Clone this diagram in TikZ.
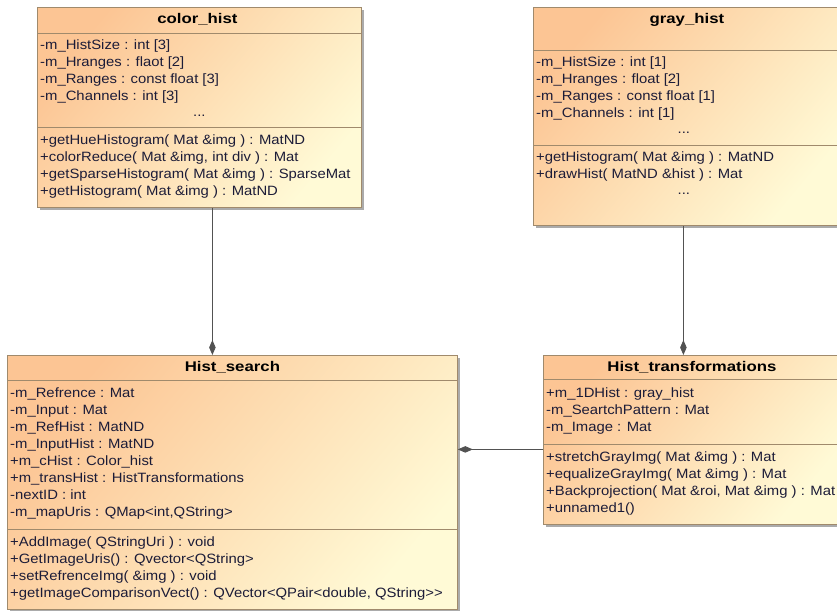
\documentclass[tikz,border=0pt]{standalone}
\usepackage{fontspec}
\setmainfont{Liberation Sans}[FakeStretch=1.1]
\newfontfamily\titlefont{Liberation Sans}[FakeStretch=1.2]
\usepackage{xcolor}
\usepackage{tikz}
\usetikzlibrary{arrows.meta,shadows}

\definecolor{peach}{HTML}{FCC594}
\definecolor{cream}{HTML}{FFFAD6}
\definecolor{umlline}{HTML}{A08A6C}
\definecolor{umltext}{HTML}{1C1C38}

\begin{document}
\begin{tikzpicture}[
  x=1pt, y=-1pt,
  cls/.style={draw=umlline, line width=0.8pt, anchor=north west, inner sep=0pt,
    top color=peach, bottom color=cream, shading angle=50,
    drop shadow={shadow xshift=3pt, shadow yshift=-3pt, fill=black!33, opacity=1}},
  sep/.style={draw=umlline, line width=0.8pt},
  title/.style={font=\titlefont\fontsize{14}{16}\selectfont\bfseries, inner sep=0pt},
  members/.style={anchor=north west, align=left, inner sep=0pt, text=umltext,
    font=\fontsize{13.5}{17}\selectfont},
  more/.style={anchor=base, inner sep=0pt, text=umltext, font=\fontsize{13.5}{17}\selectfont},
  comp/.style={draw=black!68, line width=0.9pt, -{Diamond[length=15pt,width=6.5pt]}}
]
  \clip (0,0) rectangle (837,610);

  % color_hist
  \node[cls, minimum width=324pt, minimum height=200pt] (colorhist) at (37,7) {};
  \node[title] (colorhistT) at ([yshift=-12.5pt,xshift=-2pt]colorhist.north) {color\_hist};
  \draw[sep] ([yshift=-26pt]colorhist.north west) -- ([yshift=-26pt]colorhist.north east);
  \node[members] (colorhistA) at ([xshift=3pt,yshift=-32.5pt]colorhist.north west)
    {-m\_HistSize : int [3]\\-m\_Hranges : flaot [2]\\-m\_Ranges : const float [3]\\-m\_Channels : int [3]};
  \node[more] (colorhistD) at ([yshift=-109pt]colorhist.north) {...};
  \draw[sep] ([yshift=-120pt]colorhist.north west) -- ([yshift=-120pt]colorhist.north east);
  \node[members] (colorhistM) at ([xshift=3pt,yshift=-127.5pt]colorhist.north west)
    {+getHueHistogram( Mat \&img ) : MatND\\+colorReduce( Mat \&img, int div ) : Mat\\
     +getSparseHistogram( Mat \&img ) : SparseMat\\+getHistogram( Mat \&img ) : MatND};

  % gray_hist
  \node[cls, minimum width=307pt, minimum height=218pt] (grayhist) at (533,7) {};
  \node[title] (grayhistT) at ([yshift=-13pt]grayhist.north) {gray\_hist};
  \draw[sep] ([yshift=-43pt]grayhist.north west) -- ([yshift=-43pt]grayhist.north east);
  \node[members] (grayhistA) at ([xshift=3pt,yshift=-49.5pt]grayhist.north west)
    {-m\_HistSize : int [1]\\-m\_Hranges : float [2]\\-m\_Ranges : const float [1]\\-m\_Channels : int [1]};
  \node[more] (grayhistD) at ([yshift=-126pt,xshift=-3pt]grayhist.north) {...};
  \draw[sep] ([yshift=-138pt]grayhist.north west) -- ([yshift=-138pt]grayhist.north east);
  \node[members] (grayhistM) at ([xshift=3pt,yshift=-144.5pt]grayhist.north west)
    {+getHistogram( Mat \&img ) : MatND\\+drawHist( MatND \&hist ) : Mat};
  \node[more] (grayhistE) at ([yshift=-187pt,xshift=-3pt]grayhist.north) {...};

  % Hist_search
  \node[cls, minimum width=450pt, minimum height=254pt] (histsearch) at (7,355) {};
  \node[title] (histsearchT) at ([yshift=-12pt]histsearch.north) {Hist\_search};
  \draw[sep] ([yshift=-25pt]histsearch.north west) -- ([yshift=-25pt]histsearch.north east);
  \node[members] (histsearchA) at ([xshift=3pt,yshift=-32.5pt]histsearch.north west)
    {-m\_Refrence : Mat\\-m\_Input : Mat\\-m\_RefHist : MatND\\-m\_InputHist : MatND\\
     +m\_cHist : Color\_hist\\+m\_transHist : HistTransformations\\-nextID : int\\
     -m\_mapUris : QMap<int,QString>};
  \draw[sep] ([yshift=-174pt]histsearch.north west) -- ([yshift=-174pt]histsearch.north east);
  \node[members] (histsearchM) at ([xshift=3pt,yshift=-181.5pt]histsearch.north west)
    {+AddImage( QStringUri ) : void\\+GetImageUris() : Qvector<QString>\\
     +setRefrenceImg( \&img ) : void\\+getImageComparisonVect() : QVector<QPair<double, QString>{}>};

  % Hist_transformations
  \node[cls, minimum width=297pt, minimum height=169pt] (histtrans) at (543,355) {};
  \node[title] (histtransT) at ([yshift=-12pt]histtrans.north) {Hist\_transformations};
  \draw[sep] ([yshift=-24pt]histtrans.north west) -- ([yshift=-24pt]histtrans.north east);
  \node[members] (histtransA) at ([xshift=3pt,yshift=-32.5pt]histtrans.north west)
    {+m\_1DHist : gray\_hist\\-m\_SeartchPattern : Mat\\-m\_Image : Mat};
  \draw[sep] ([yshift=-89pt]histtrans.north west) -- ([yshift=-89pt]histtrans.north east);
  \node[members] (histtransM) at ([xshift=3pt,yshift=-96.5pt]histtrans.north west)
    {+stretchGrayImg( Mat \&img ) : Mat\\+equalizeGrayImg( Mat \&img ) : Mat\\
     +Backprojection( Mat \&roi, Mat \&img ) : Mat\\+unnamed1()};

  % composition links
  \draw[comp] ([xshift=13pt]colorhist.south) -- ([xshift=13pt]colorhist.south |- histsearch.north);
  \draw[comp] ([xshift=-3.5pt]grayhist.south) -- ([xshift=-3.5pt]grayhist.south |- histtrans.north);
  \draw[comp] ([yshift=-9.5pt]histtrans.west) -- ([yshift=-9.5pt]histtrans.west -| histsearch.east);
\end{tikzpicture}
\end{document}
